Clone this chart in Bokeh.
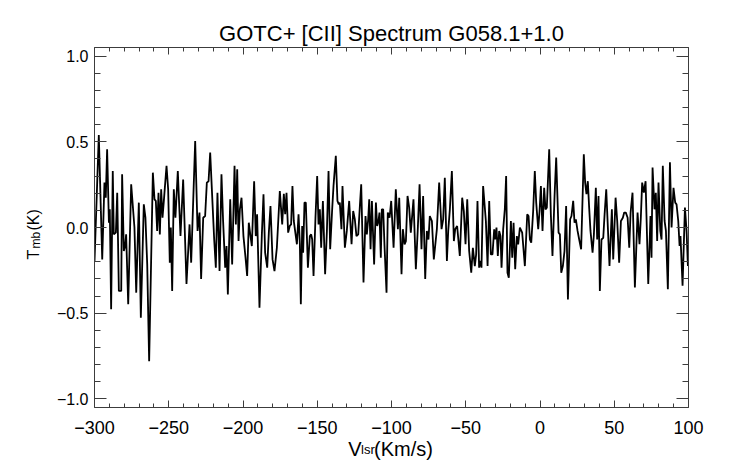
from bokeh.plotting import figure
from bokeh.models import Range1d, LinearAxis, FixedTicker, CustomJSTickFormatter, Label
from bokeh.embed import file_html
from bokeh.resources import INLINE

# ---- data ----
velocity = [
    -300.0, -297.1, -294.8, -293.3, -292.4, -291.5, -290.3, -289.7, -288.8, -287.7,
    -287.0, -285.6, -284.7, -283.6, -282.0, -281.4, -280.25, -279.35, -278.7, -277.3,
    -275.3, -273.1, -271.9, -270.15, -268.8, -266.8, -265.7, -264.5, -263.2, -260.7,
    -259.6, -258.7, -257.8, -256.9, -256.0, -255.1, -254.2, -253.3, -251.5, -250.4,
    -249.3, -248.6, -247.7, -246.6, -245.5, -243.9, -242.1, -240.3, -238.05, -236.0,
    -234.9, -232.2, -230.6, -229.3, -228.2, -226.8, -225.5, -224.35, -223.2, -222.1,
    -220.5, -219.4, -218.3, -217.2, -215.8, -214.5, -213.4, -212.0, -211.1, -210.2,
    -208.6, -207.3, -205.7, -204.8, -203.9, -203.0, -202.1, -201.0, -199.7, -198.3,
    -197.2, -196.1, -194.95, -194.05, -192.5, -191.4, -190.5, -188.9, -187.3, -186.2,
    -185.1, -183.7, -182.6, -181.5, -180.1, -178.8, -177.2, -175.2, -173.6, -172.5,
    -171.6, -170.7, -169.6, -168.5, -167.6, -166.7, -165.8, -164.6, -163.7, -162.6,
    -161.7, -161.05, -160.15, -159.5, -158.6, -157.7, -156.3, -155.0, -154.1, -153.4,
    -152.5, -151.2, -150.05, -149.15, -148.25, -147.35, -146.2, -144.7, -143.5, -142.4,
    -141.3, -139.95, -139.05, -137.5, -136.4, -135.5, -134.8, -133.7, -133.0, -131.4,
    -130.1, -128.5, -126.9, -125.8, -124.7, -123.6, -122.4, -121.3, -120.4, -118.85,
    -117.5, -116.6, -115.7, -115.0, -114.1, -113.2, -111.7, -110.5, -109.65, -108.75,
    -108.1, -107.2, -106.5, -105.6, -104.7, -103.35, -102.5, -101.3, -100.2, -98.6,
    -97.1, -95.7, -94.8, -93.25, -92.35, -91.2, -90.3, -89.2, -88.1, -87.0,
    -85.2, -83.6, -82.25, -81.1, -79.8, -78.7, -77.3, -76.2, -75.1, -74.2,
    -72.8, -71.5, -69.45, -67.9, -66.3, -65.2, -64.1, -62.7, -61.8, -60.7,
    -59.35, -58.0, -57.1, -55.8, -54.0, -52.4, -51.3, -50.15, -49.0, -47.7,
    -46.3, -45.2, -43.9, -43.0, -42.1, -41.0, -40.05, -39.4, -38.3, -36.45,
    -35.3, -34.2, -33.1, -32.0, -30.85, -30.2, -29.3, -28.4, -27.5, -26.6,
    -25.9, -24.8, -23.7, -22.8, -21.9, -21.0, -19.6, -18.7, -17.8, -16.7,
    -15.6, -14.7, -13.55, -12.0, -10.2, -8.6, -7.7, -6.8, -5.9, -4.6,
    -3.5, -2.55, -1.2, -0.3, 0.6, 1.7, 2.8, 3.7, 4.6, 6.2,
    7.3, 8.4, 9.8, 10.9, 12.5, 13.4, 14.3, 15.4, 16.5, 17.6,
    18.8, 20.3, 21.2, 22.35, 23.25, 24.15, 25.3, 26.4, 27.7, 29.5,
    30.4, 31.3, 32.2, 33.1, 34.0, 35.4, 36.3, 37.6, 38.5, 39.4,
    40.3, 41.4, 42.6, 43.5, 44.6, 45.7, 46.8, 48.4, 49.3, 50.9,
    52.0, 53.3, 54.5, 55.8, 56.7, 57.8, 59.0, 60.1, 61.0, 62.3,
    63.9, 65.7, 67.0, 67.9, 68.8, 69.95, 71.1, 72.9, 74.4, 75.1,
    75.8, 77.1, 78.0, 78.9, 79.8, 81.0, 81.85, 82.7, 83.9, 84.8,
    86.1, 87.5, 88.6, 89.9, 91.05, 91.95, 93.1, 94.0, 94.6, 96.0,
    97.6, 98.7, 99.6,
]
tmb = [
    -0.20, 0.54, -0.186, 0.262, 0.174, 0.456, 0.028, 0.106, -0.477, 0.33,
    -0.04, -0.03, 0.203, -0.37, -0.37, 0.31, -0.137, -0.108, -0.04, -0.448,
    0.252, 0.0, -0.38, 0.145, -0.526, 0.135, 0.057, -0.215, -0.78, 0.32,
    0.164, 0.155, -0.02, 0.203, -0.04, 0.223, 0.057, 0.155, 0.36, 0.223,
    -0.205, 0.0, -0.37, 0.223, 0.057, 0.33, -0.05, 0.28, -0.33, 0.018,
    -0.205, 0.505, -0.02, 0.087, -0.30, 0.057, 0.067, 0.262, 0.27, 0.437,
    0.135, -0.07, -0.234, 0.203, -0.254, 0.31, 0.038, -0.234, -0.108, -0.39,
    0.164, -0.215, 0.36, 0.018, 0.34, -0.079, 0.106, 0.174, -0.05, -0.176,
    -0.283, 0.028, -0.05, -0.108, 0.27, -0.05, 0.077, -0.468, -0.04, 0.194,
    -0.147, -0.234, -0.03, 0.125, -0.186, -0.254, -0.118, 0.213, 0.018, 0.197,
    0.077, 0.203, -0.03, 0.009, 0.018, 0.242, 0.038, -0.04, -0.098, 0.077,
    -0.098, -0.448, 0.009, -0.147, 0.145, 0.145, -0.234, -0.05, -0.04, -0.07,
    -0.283, 0.057, 0.30, 0.018, 0.106, -0.118, 0.155, -0.273, -0.02, 0.33,
    -0.127, 0.106, 0.242, 0.418, 0.155, 0.135, 0.145, -0.01, 0.242, -0.118,
    -0.02, 0.155, -0.098, 0.096, 0.048, -0.05, -0.04, 0.125, 0.252, -0.32,
    0.067, -0.04, 0.048, 0.164, -0.127, 0.155, -0.215, 0.145, 0.009, 0.038,
    0.087, -0.176, 0.106, 0.106, -0.108, -0.38, 0.087, 0.057, 0.155, -0.118,
    0.223, -0.01, 0.174, -0.273, -0.01, -0.098, -0.079, 0.184, 0.116, -0.03,
    0.164, -0.244, 0.0, 0.252, -0.127, 0.184, -0.30, -0.02, -0.07, 0.067,
    0.038, -0.186, -0.01, 0.262, -0.01, 0.048, 0.29, -0.195, -0.02, 0.106,
    0.33, -0.079, -0.01, 0.009, -0.166, 0.174, 0.096, -0.098, 0.164, -0.137,
    -0.264, -0.118, -0.225, -0.157, 0.155, -0.234, -0.195, -0.234, 0.242, 0.038,
    -0.225, 0.155, -0.157, -0.157, -0.01, -0.07, 0.0, -0.166, -0.02, -0.05,
    -0.234, -0.01, 0.106, 0.30, -0.264, -0.293, 0.038, -0.176, 0.028, -0.244,
    -0.05, -0.098, 0.0, -0.03, -0.225, 0.077, 0.067, -0.07, -0.089, 0.096,
    0.33, 0.145, -0.01, 0.096, 0.242, -0.02, 0.232, 0.106, 0.116, 0.456,
    0.077, -0.166, 0.184, 0.408, -0.03, -0.04, -0.264, -0.225, -0.137, 0.125,
    -0.42, 0.048, 0.067, 0.155, 0.028, 0.048, -0.02, -0.07, -0.127, 0.427,
    0.262, 0.194, 0.27, 0.116, -0.02, -0.147, -0.04, 0.232, -0.07, 0.184,
    -0.37, -0.07, -0.06, 0.077, 0.223, 0.0, -0.225, 0.106, -0.186, 0.174,
    0.038, -0.205, 0.038, 0.057, 0.087, 0.087, 0.057, -0.118, 0.087, 0.203,
    -0.35, 0.087, -0.098, 0.057, 0.262, 0.203, 0.27, -0.33, 0.067, -0.176,
    0.35, 0.106, 0.203, -0.079, 0.262, -0.02, -0.07, 0.36, 0.038, -0.02,
    -0.36, 0.38, 0.0, 0.232, 0.145, 0.135, 0.038, -0.108, -0.05, -0.34,
    0.116, -0.02, -0.225,
]

title_text = "GOTC+ [CII] Spectrum G058.1+1.0"
x_major = [-300, -250, -200, -150, -100, -50, 0, 50, 100]
x_minor = [-300, -290, -280, -270, -260, -250, -240, -230, -220, -210, -200,
           -190, -180, -170, -160, -150, -140, -130, -120, -110, -100, -90,
           -80, -70, -60, -50, -40, -30, -20, -10, 0, 10, 20, 30, 40, 50,
           60, 70, 80, 90, 100]
y_major = [-1.0, -0.5, 0.0, 0.5, 1.0]
y_minor = [-1.0, -0.9, -0.8, -0.7, -0.6, -0.5, -0.4, -0.3, -0.2, -0.1, 0.0,
           0.1, 0.2, 0.3, 0.4, 0.5, 0.6, 0.7, 0.8, 0.9, 1.0]

X0, X1 = -300, 100
Y0, Y1 = -1.05, 1.05
W, H = 742, 464

FONT = "Liberation Sans"
AX_COLOR = "#3c3c3c"

p = figure(width=W, height=H, frame_width=594, frame_height=360,
           output_backend="svg", toolbar_location=None,
           x_range=Range1d(X0, X1), y_range=Range1d(Y0, Y1),
           x_axis_type=None, y_axis_type=None,
           min_border_left=94, min_border_right=54,
           min_border_top=47, min_border_bottom=57)
p.outline_line_color = None
p.background_fill_color = "white"
p.border_fill_color = "white"

p.title.text = title_text
p.title.align = "center"
p.title.text_font = FONT
p.title.text_font_size = "22px"
p.title.text_font_style = "normal"
p.title.text_color = "black"
p.title.standoff = 4

fmt_x = CustomJSTickFormatter(code="return (tick < 0 ? '\\u2212' : '') + Math.abs(tick).toFixed(0);")
fmt_y = CustomJSTickFormatter(code="return (tick < -1e-9 ? '\\u2212' : '') + Math.abs(tick).toFixed(1);")
fmt_none = CustomJSTickFormatter(code="return '';")


def make_axis(ticks, minor, fmt, tin, mtin, size, standoff):
    ax = LinearAxis(ticker=FixedTicker(ticks=ticks, minor_ticks=minor), formatter=fmt)
    ax.major_tick_in = tin
    ax.major_tick_out = 0
    ax.minor_tick_in = mtin
    ax.minor_tick_out = 0
    ax.axis_line_color = AX_COLOR
    ax.axis_line_width = 1
    ax.major_tick_line_color = AX_COLOR
    ax.minor_tick_line_color = AX_COLOR
    ax.major_label_text_font = FONT
    ax.major_label_text_font_size = size
    ax.major_label_text_color = "black"
    ax.major_label_standoff = standoff
    return ax


p.add_layout(make_axis(x_major, x_minor, fmt_x, 7, 4, "18px", 13), "below")
p.add_layout(make_axis(x_major, x_minor, fmt_none, 7, 4, "1px", 0), "above")
p.add_layout(make_axis(y_major, y_minor, fmt_y, 12, 6, "16px", 6), "left")
p.add_layout(make_axis(y_major, y_minor, fmt_none, 12, 6, "1px", 0), "right")

p.line(velocity, tmb, line_color="black", line_width=1.8)


def add_text(px, py, text, size, side, angle=0):
    # px, py: canvas pixels from the top-left corner; placed in a side panel
    # so that the text is not clipped to the data frame
    p.add_layout(Label(x=px, y=py, x_units="canvas", y_units="canvas",
                       text=text, text_font=FONT, text_font_size=size,
                       text_color="black", text_align="left",
                       text_baseline="alphabetic", angle=angle, angle_units="deg"),
                 side)


# x-axis label  V_lsr(Km/s)
add_text(347.7, 448, "V", "20px", "right")
add_text(360.5, 448.5, "lsr", "13px", "below")
add_text(373.5, 448, "(Km/s)", "20px", "right")

# y-axis label  T_mb(K)
add_text(33, 259, "T", "16px", "left", angle=90)
add_text(35, 248, "mb", "12px", "left", angle=90)
add_text(33, 230, "(K)", "16px", "left", angle=90)

open("out.html", "w").write(file_html(p, INLINE))
